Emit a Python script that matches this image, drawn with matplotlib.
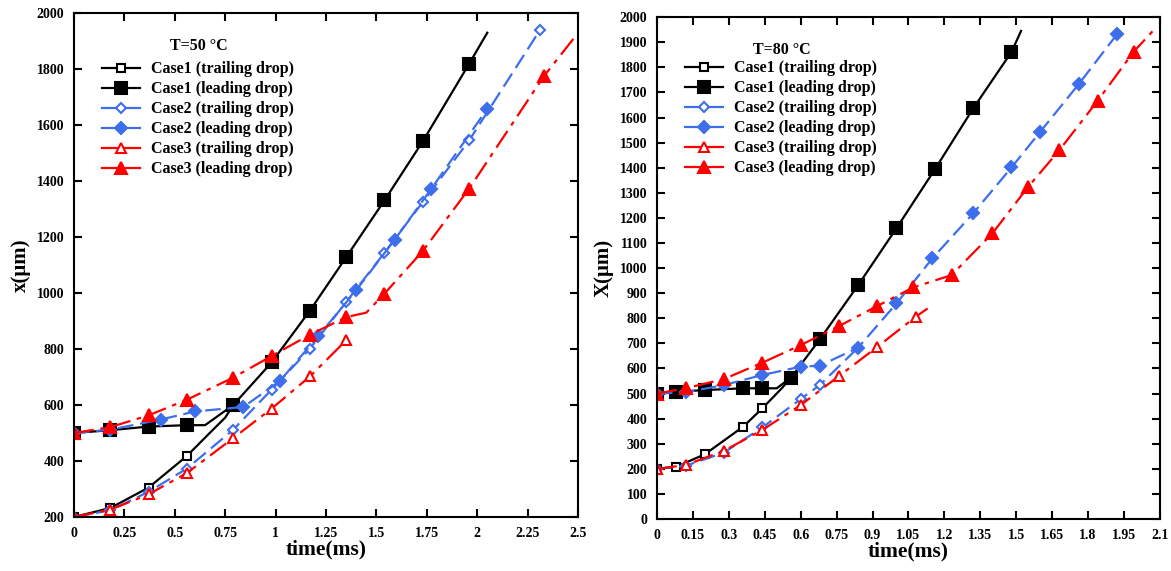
import numpy as np
import matplotlib
matplotlib.use("Agg")
import matplotlib.pyplot as plt
from matplotlib.ticker import FuncFormatter

plt.rcParams['font.family'] = ['Liberation Serif', 'DejaVu Serif']
plt.rcParams['font.weight'] = 'bold'
plt.rcParams['axes.labelweight'] = 'bold'

BLACK = '#000000'
BLUE = '#3D6EEB'
RED = '#FF0000'

# ---- T = 50 C (left panel) ----
l_c1_trail_t = [0, 0.18, 0.37, 0.56, 0.68, 0.75, 0.79]
l_c1_trail_x = [200, 232, 305, 418, 505, 555, 600]
l_c1_trail_m = [0, 1, 2, 3]
l_c1_lead_t = [0, 0.18, 0.37, 0.56, 0.65, 0.79, 0.98, 1.17, 1.35, 1.54, 1.73, 1.96, 2.05]
l_c1_lead_x = [500, 510, 523, 528, 528, 600, 752, 937, 1128, 1331, 1542, 1819, 1930]
l_c1_lead_m = [0, 1, 2, 3, 5, 6, 7, 8, 9, 10, 11]

l_c2_trail_t = [0, 0.18, 0.37, 0.56, 0.79, 0.98, 1.17, 1.35, 1.54, 1.73, 1.96, 2.31]
l_c2_trail_x = [200, 224, 290, 373, 512, 655, 801, 968, 1144, 1325, 1545, 1938]
l_c2_lead_t = [0, 0.18, 0.43, 0.6, 0.84, 1.02, 1.21, 1.4, 1.59, 1.77, 2.05]
l_c2_lead_x = [500, 512, 548, 577, 593, 685, 845, 1010, 1190, 1370, 1658]

l_c3_trail_t = [0, 0.18, 0.37, 0.56, 0.79, 0.98, 1.17, 1.35]
l_c3_trail_x = [200, 226, 281, 357, 482, 587, 702, 831]
l_c3_lead_t = [0, 0.18, 0.37, 0.56, 0.79, 0.98, 1.17, 1.35, 1.45, 1.54, 1.73, 1.96, 2.33, 2.49]
l_c3_lead_x = [500, 521, 563, 619, 698, 775, 851, 914, 930, 998, 1150, 1373, 1774, 1920]
l_c3_lead_m = [0, 1, 2, 3, 4, 5, 6, 7, 9, 10, 11, 12]

# ---- T = 80 C (right panel) ----
r_c1_trail_t = [0, 0.08, 0.2, 0.36, 0.44, 0.52, 0.56]
r_c1_trail_x = [200, 208, 258, 368, 441, 520, 564]
r_c1_trail_m = [0, 1, 2, 3, 4]
r_c1_lead_t = [0, 0.08, 0.2, 0.36, 0.44, 0.5, 0.56, 0.68, 0.84, 1.0, 1.16, 1.32, 1.48, 1.52]
r_c1_lead_x = [500, 507, 514, 521, 521, 521, 564, 716, 932, 1159, 1393, 1636, 1861, 1945]
r_c1_lead_m = [0, 1, 2, 3, 4, 6, 7, 8, 9, 10, 11, 12]

r_c2_trail_t = [0, 0.12, 0.28, 0.44, 0.6, 0.68, 0.84]
r_c2_trail_x = [200, 212, 265, 365, 478, 534, 683]
r_c2_trail_m = [0, 1, 2, 3, 4, 5]
r_c2_lead_t = [0, 0.12, 0.28, 0.44, 0.6, 0.68, 0.84, 1.0, 1.15, 1.32, 1.48, 1.6, 1.76, 1.92]
r_c2_lead_x = [500, 505, 534, 574, 607, 611, 683, 859, 1039, 1218, 1401, 1543, 1732, 1931]

r_c3_trail_t = [0, 0.12, 0.28, 0.44, 0.6, 0.76, 0.92, 1.08, 1.13]
r_c3_trail_x = [200, 215, 272, 355, 454, 570, 686, 806, 839]
r_c3_trail_m = [0, 1, 2, 3, 4, 5, 6, 7]
r_c3_lead_t = [0, 0.12, 0.28, 0.44, 0.6, 0.76, 0.92, 1.07, 1.23, 1.4, 1.55, 1.68, 1.84, 1.99, 2.08]
r_c3_lead_x = [500, 521, 558, 623, 693, 769, 849, 923, 972, 1138, 1324, 1470, 1667, 1862, 1955]
r_c3_lead_m = list(range(14))

labels = ['Case1 (trailing drop)', 'Case1 (leading drop)',
          'Case2 (trailing drop)', 'Case2 (leading drop)',
          'Case3 (trailing drop)', 'Case3 (leading drop)']

DASH2 = (0, (7, 3))
DASH3 = (0, (9, 3, 2, 3))

def draw(ax, series):
    handles = []
    for (t, x, mk, color, marker, filled, ls, ms, lab) in series:
        h, = ax.plot(t, x, color=color, ls=ls, lw=1.6, marker=marker, ms=ms,
                     markevery=mk, mfc=color if filled else 'white',
                     mec=color, mew=1.5, label=lab)
        handles.append(h)
    return handles

fig = plt.figure(figsize=(11.71, 5.71), dpi=100)
axL = fig.add_axes([0.0632, 0.0946, 0.4304, 0.8824])
axR = fig.add_axes([0.561, 0.091, 0.4296, 0.879])

left_series = [
    (l_c1_trail_t, l_c1_trail_x, l_c1_trail_m, BLACK, 's', False, '-', 5.5, labels[0]),
    (l_c1_lead_t, l_c1_lead_x, l_c1_lead_m, BLACK, 's', True, '-', 8, labels[1]),
    (l_c2_trail_t, l_c2_trail_x, None, BLUE, 'D', False, DASH2, 5, labels[2]),
    (l_c2_lead_t, l_c2_lead_x, None, BLUE, 'D', True, DASH2, 6, labels[3]),
    (l_c3_trail_t, l_c3_trail_x, None, RED, '^', False, DASH3, 7.5, labels[4]),
    (l_c3_lead_t, l_c3_lead_x, l_c3_lead_m, RED, '^', True, DASH3, 8, labels[5]),
]
right_series = [
    (r_c1_trail_t, r_c1_trail_x, r_c1_trail_m, BLACK, 's', False, '-', 5.5, labels[0]),
    (r_c1_lead_t, r_c1_lead_x, r_c1_lead_m, BLACK, 's', True, '-', 8, labels[1]),
    (r_c2_trail_t, r_c2_trail_x, r_c2_trail_m, BLUE, 'D', False, DASH2, 5, labels[2]),
    (r_c2_lead_t, r_c2_lead_x, None, BLUE, 'D', True, DASH2, 6, labels[3]),
    (r_c3_trail_t, r_c3_trail_x, r_c3_trail_m, RED, '^', False, DASH3, 7.5, labels[4]),
    (r_c3_lead_t, r_c3_lead_x, r_c3_lead_m, RED, '^', True, DASH3, 8, labels[5]),
]

hL = draw(axL, left_series)
hR = draw(axR, right_series)

fmt = FuncFormatter(lambda v, p: f'{round(v, 3):g}')

axL.set_xlim(0, 2.5)
axL.set_ylim(200, 2000)
axL.set_xticks(np.arange(0, 2.51, 0.25))
axL.set_yticks(np.arange(200, 2001, 200))
axL.set_ylabel('x(\u03bcm)', fontsize=15, fontweight='bold')

axR.set_xlim(0, 2.1)
axR.set_ylim(0, 2000)
axR.set_xticks(np.arange(0, 2.101, 0.15))
axR.set_yticks(np.arange(0, 2001, 100))
axR.set_ylabel('X(\u03bcm)', fontsize=15, fontweight='bold')

for ax, title, handles, top in [(axL, 'T=50 \u00b0C', hL, 0.92), (axR, 'T=80 \u00b0C', hR, 0.93)]:
    ax.xaxis.set_major_formatter(fmt)
    ax.set_xlabel('time(ms)', fontsize=15.5, fontweight='bold', labelpad=0)
    ax.tick_params(direction='in', length=6, width=1.5, top=True, right=True,
                   labelsize=10, pad=7)
    for s in ax.spines.values():
        s.set_linewidth(1.5)
    for lbl in ax.get_xticklabels() + ax.get_yticklabels():
        lbl.set_fontweight('bold')
    ax.text(0.19, 0.935, title, transform=ax.transAxes, fontsize=11.5,
            fontweight='bold', ha='left', va='center')
    leg = ax.legend(handles=handles, loc='upper left', bbox_to_anchor=(0.04, top),
                    frameon=False, handlelength=2.4,
                    handletextpad=0.65, labelspacing=0.25, borderpad=0,
                    prop={'weight': 'bold', 'size': 11.5})
    for lh in leg.get_lines():
        lh.set_linestyle('-')

fig.savefig('out.png', dpi=100)
